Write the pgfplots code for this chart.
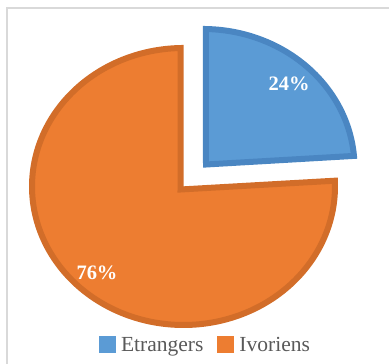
\documentclass[border=0pt]{standalone}
\usepackage{fontspec}
\setmainfont{Liberation Serif}
\usepackage{pgfplots}
\pgfplotsset{compat=1.18}
\definecolor{cblue}{HTML}{5B9BD5}
\definecolor{cblueD}{HTML}{4A86C2}
\definecolor{corange}{HTML}{ED7D31}
\definecolor{corangeD}{HTML}{D26D29}
\definecolor{ctext}{HTML}{595959}
\definecolor{cborder}{HTML}{D9D9D9}
% data (percent)
\def\vA{24}% Etrangers
\def\vB{76}% Ivoriens
\pgfmathsetmacro{\aEnd}{90-3.6*\vA}
\pgfmathsetmacro{\bEnd}{\aEnd-3.6*\vB}
\begin{document}
\begin{tikzpicture}
\begin{axis}[width=389pt,height=364pt,scale only axis,
  xmin=0,xmax=389,ymin=0,ymax=364,hide axis,clip=true,
  legend columns=2,
  legend cell align=left,
  legend style={at={(axis cs:205.5,19)},anchor=center,draw=none,fill=none,
    font=\fontsize{21.5}{24}\selectfont\color{ctext},
    /tikz/every even column/.append style={column sep=12pt}}]
\draw[cborder, line width=1.5pt] (axis cs:7,-10) -- (axis cs:7,356) -- (axis cs:400,356);
% Etrangers slice (exploded)
\addplot[fill=cblue, draw=cblueD, line width=6pt, line join=miter, samples=80,
  domain={90-1.1}:{\aEnd+1.2}, variable=\t,
  legend image code/.code={\fill[cblue] (0pt,-5pt) rectangle (11pt,6pt); \path (14pt,0pt);}]
  ({203+151.5*cos(\t)},{196.5+138.5*sin(\t)}) -- (axis cs:206,199.5) -- cycle;
\addlegendentry{Etrangers}
% Ivoriens slice
\addplot[fill=corange, draw=corangeD, line width=6pt, line join=miter, samples=240,
  domain={\aEnd-1.2}:{\bEnd+1.1}, variable=\t,
  legend image code/.code={\fill[corange] (0pt,-5pt) rectangle (11pt,6pt); \path (14pt,0pt);}]
  ({183.5+151.5*cos(\t)},{177.5+138.5*sin(\t)}) -- (axis cs:180.5,174.5) -- cycle;
\addlegendentry{Ivoriens}
\node[text=white, font=\bfseries\fontsize{20.5}{21}\selectfont] at (axis cs:289,280) {\vA\%};
\node[text=white, font=\bfseries\fontsize{20.5}{21}\selectfont] at (axis cs:97,91) {\vB\%};
\end{axis}
\pgfresetboundingbox
\path (current axis.south west) rectangle (current axis.north east);
\end{tikzpicture}
\end{document}
